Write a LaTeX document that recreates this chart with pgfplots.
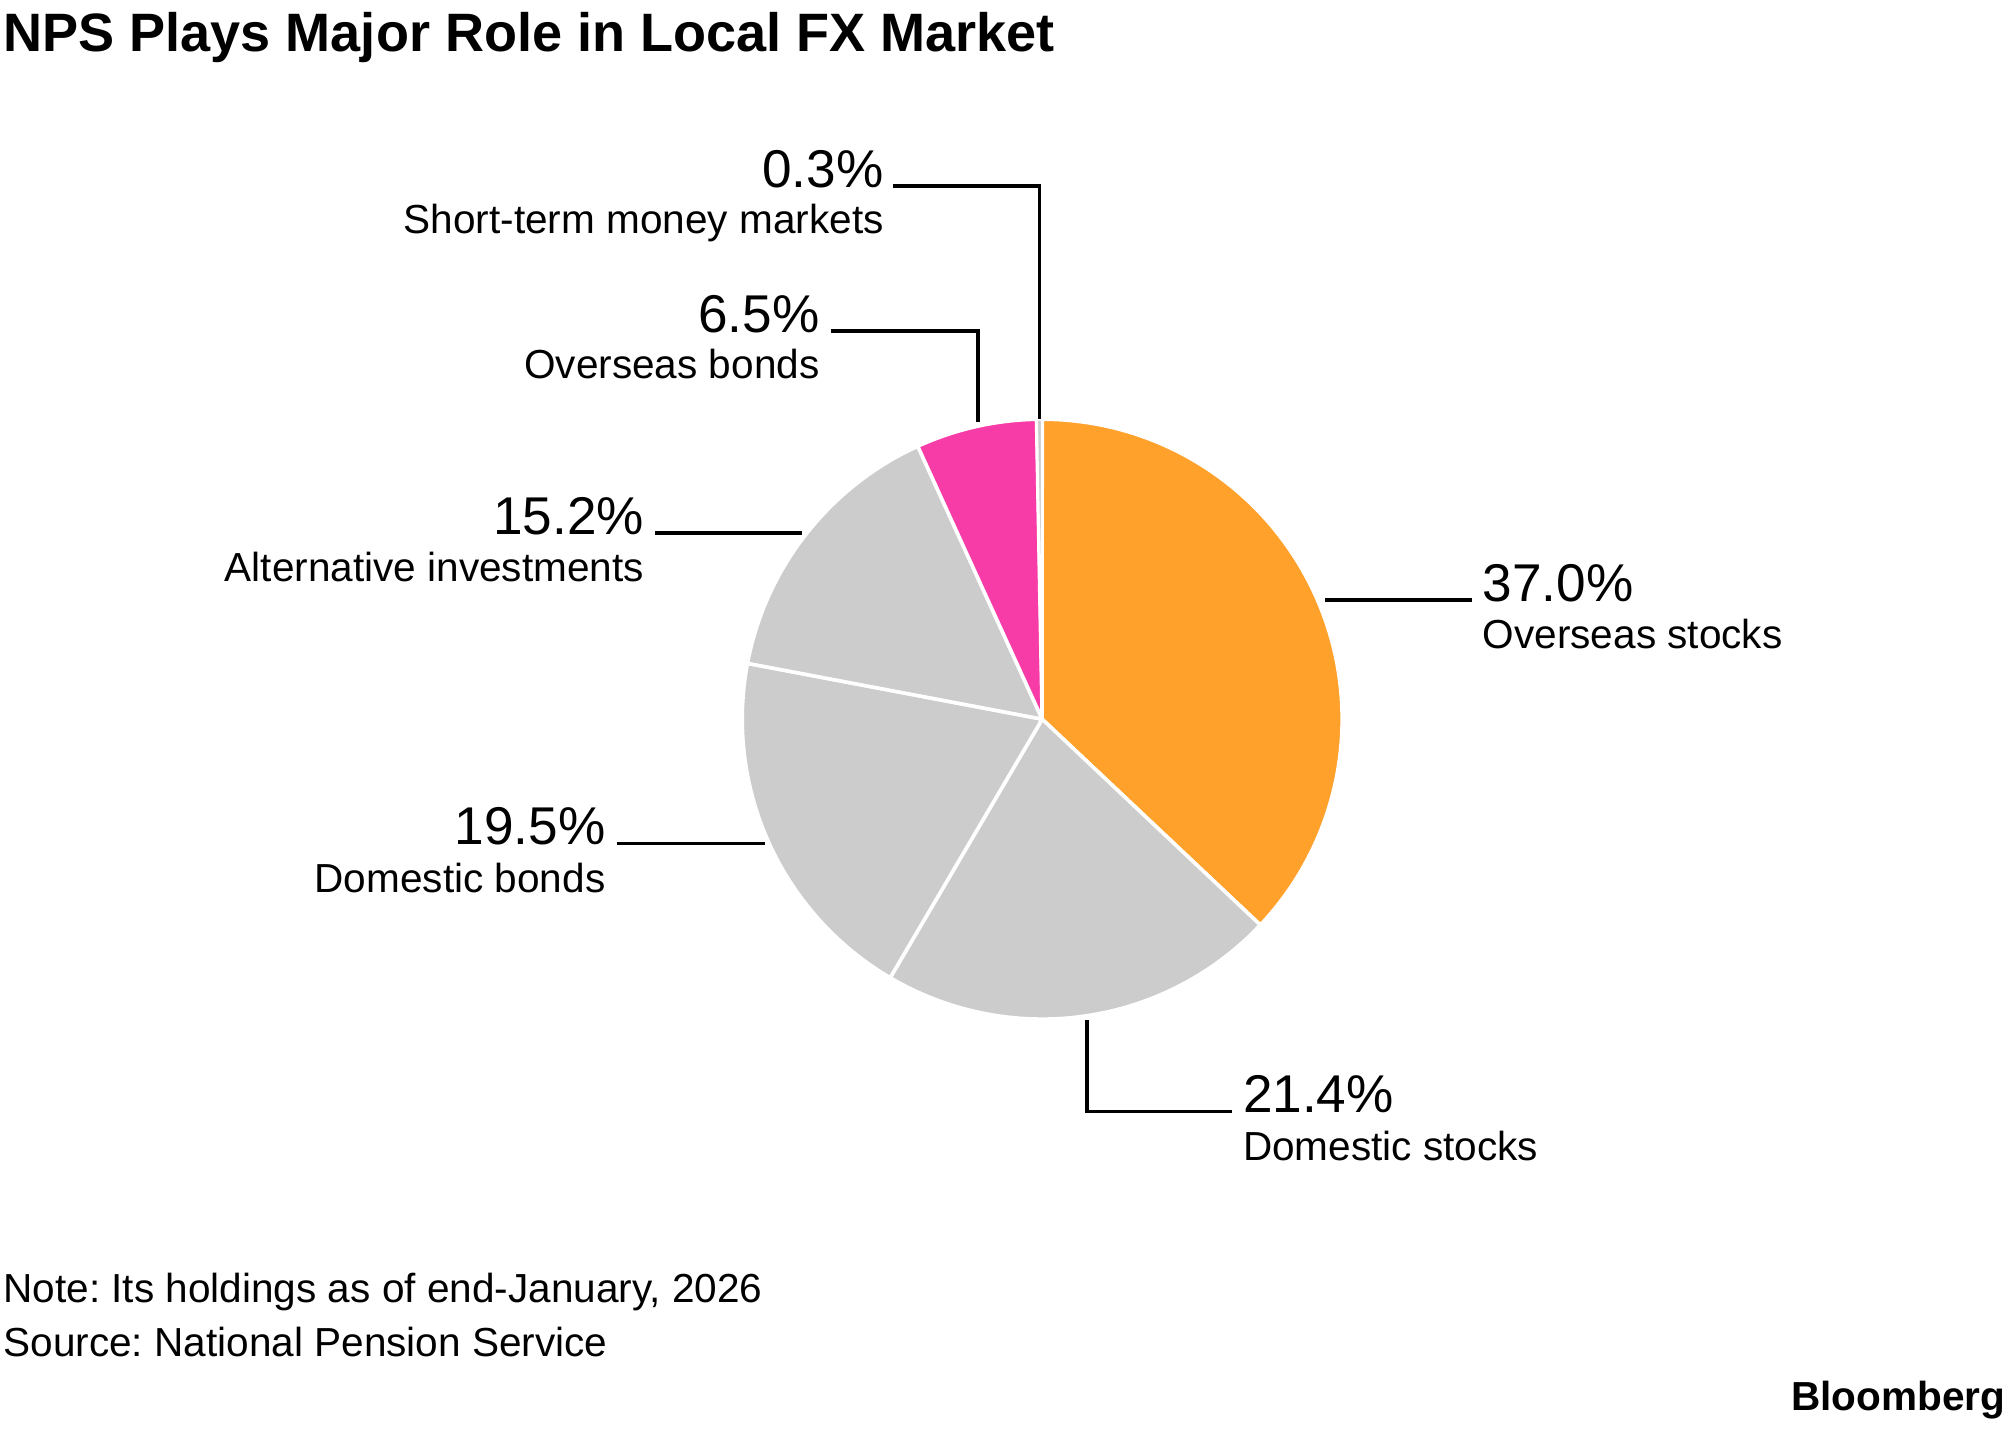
\documentclass[border=0pt]{standalone}
\usepackage{fontspec}
\setmainfont{Liberation Sans}
\usepackage{pgfplots}
\pgfplotsset{compat=1.18}
\frenchspacing
\definecolor{nporange}{HTML}{FFA12B}
\definecolor{nppink}{HTML}{F73CA8}
\definecolor{npgray}{HTML}{CCCCCC}
\newcommand\pct{\fontsize{11.8}{14}\selectfont}
\newcommand\lab{\fontsize{9}{11}\selectfont}
% data (per cent of holdings)
\def\vA{37.0} % Overseas stocks
\def\vB{21.4} % Domestic stocks
\def\vC{19.5} % Domestic bonds
\def\vD{15.2} % Alternative investments
\def\vE{6.5}  % Overseas bonds
\def\vF{0.3}  % Short-term money markets
\pgfmathsetmacro\tot{\vA+\vB+\vC+\vD+\vE+\vF}
\pgfmathsetmacro\kk{360/\tot}
\pgfmathsetmacro\aA{90}
\pgfmathsetmacro\aB{\aA-\vA*\kk}
\pgfmathsetmacro\aC{\aB-\vB*\kk}
\pgfmathsetmacro\aD{\aC-\vC*\kk}
\pgfmathsetmacro\aE{\aD-\vD*\kk}
\pgfmathsetmacro\aF{\aE-\vE*\kk}
\pgfmathsetmacro\aG{\aF-\vF*\kk}
\begin{document}
\frenchspacing
\begin{tikzpicture}
\useasboundingbox (0,0) rectangle (156.8mm,111.4mm);
\begin{axis}[at={(0,0)}, anchor=south west, scale only axis,
  width=156.8mm, height=111.4mm,
  xmin=0, xmax=1568, ymin=0, ymax=1114, y dir=reverse,
  hide axis, clip=false]
% pie slices
\addplot[fill=nporange, draw=white, line width=0.28mm, line join=round, domain=\aB:\aA, samples=90]
  ({813+234*cos(x)},{561-234*sin(x)}) -- (axis cs:813,561) -- cycle;
\addplot[fill=npgray, draw=white, line width=0.28mm, line join=round, domain=\aC:\aB, samples=60]
  ({813+234*cos(x)},{561-234*sin(x)}) -- (axis cs:813,561) -- cycle;
\addplot[fill=npgray, draw=white, line width=0.28mm, line join=round, domain=\aD:\aC, samples=60]
  ({813+234*cos(x)},{561-234*sin(x)}) -- (axis cs:813,561) -- cycle;
\addplot[fill=npgray, draw=white, line width=0.28mm, line join=round, domain=\aE:\aD, samples=50]
  ({813+234*cos(x)},{561-234*sin(x)}) -- (axis cs:813,561) -- cycle;
\addplot[fill=nppink, draw=white, line width=0.28mm, line join=round, domain=\aF:\aE, samples=30]
  ({813+234*cos(x)},{561-234*sin(x)}) -- (axis cs:813,561) -- cycle;
\addplot[fill=npgray, draw=white, line width=0.22mm, line join=round, domain=\aG:\aF, samples=5]
  ({813+234*cos(x)},{561-234*sin(x)}) -- (axis cs:813,561) -- cycle;
% leader lines
\addplot[black, line width=0.28mm] coordinates {(697,145) (811,145) (811,327)};
\addplot[black, line width=0.28mm] coordinates {(648,258) (763,258) (763,329)};
\addplot[black, line width=0.28mm] coordinates {(511,416) (626,416)};
\addplot[black, line width=0.28mm] coordinates {(1034,468) (1148,468)};
\addplot[black, line width=0.28mm] coordinates {(481,658) (597,658)};
\addplot[black, line width=0.28mm] coordinates {(848,796) (848,867) (961,867)};
% labels
\node[anchor=base east, inner sep=0, font=\pct] at (axis cs:690,146) {0.3\%};
\node[anchor=base east, inner sep=0, font=\lab] at (axis cs:690,182) {Short-term money markets};
\node[anchor=base east, inner sep=0, font=\pct] at (axis cs:640,259) {6.5\%};
\node[anchor=base east, inner sep=0, font=\lab] at (axis cs:640,295) {Overseas bonds};
\node[anchor=base east, inner sep=0, font=\pct] at (axis cs:503,417) {15.2\%};
\node[anchor=base east, inner sep=0, font=\lab] at (axis cs:503,454) {Alternative investments};
\node[anchor=base west, inner sep=0, font=\pct] at (axis cs:1156,469) {37.0\%};
\node[anchor=base west, inner sep=0, font=\lab] at (axis cs:1156,506) {Overseas stocks};
\node[anchor=base east, inner sep=0, font=\pct] at (axis cs:473,659) {19.5\%};
\node[anchor=base east, inner sep=0, font=\lab] at (axis cs:473,696) {Domestic bonds};
\node[anchor=base west, inner sep=0, font=\pct] at (axis cs:969,868) {21.4\%};
\node[anchor=base west, inner sep=0, font=\lab] at (axis cs:969,905) {Domestic stocks};
% title, notes, logo
\node[anchor=base west, inner sep=0, font=\fontsize{12}{14}\selectfont\bfseries] at (axis cs:2,40) {NPS Plays Major Role in Local FX Market};
\node[anchor=base west, inner sep=0, font=\lab] at (axis cs:2,1016) {Note: Its holdings as of end-January, 2026};
\node[anchor=base west, inner sep=0, font=\lab] at (axis cs:2,1058) {Source: National Pension Service};
\node[anchor=base east, inner sep=0, font=\fontsize{9}{11}\selectfont\bfseries] at (axis cs:1565,1100) {Bloomberg};
\end{axis}
\end{tikzpicture}
\end{document}
